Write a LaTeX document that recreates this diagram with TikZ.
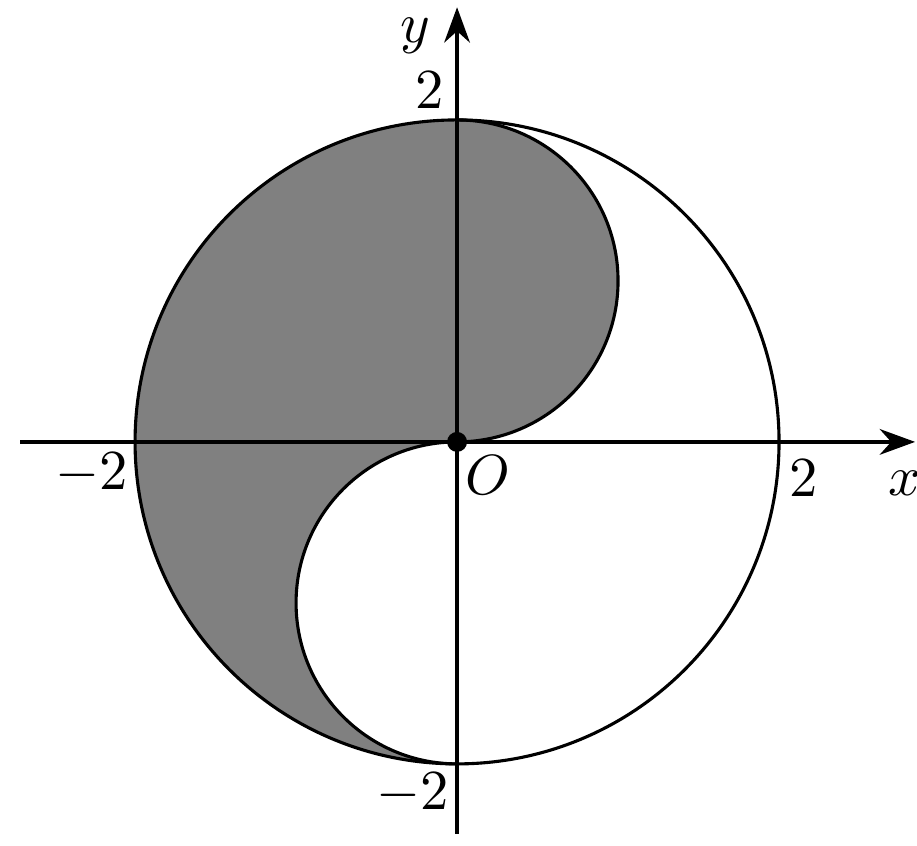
\documentclass[tikz,border=0pt]{standalone}
\usetikzlibrary{arrows.meta}
\begin{document}
\begin{tikzpicture}[
  lbl/.style={inner sep=0pt, font=\fontsize{10}{12}\selectfont},
  axis/.style={line width=0.6pt, -{Stealth[length=0.22cm, width=0.16cm]}},
  curve/.style={line width=0.55pt},
  shade/.style={fill=black!50}
]
\useasboundingbox (-2.839,-2.509) rectangle (2.857,2.745);
\coordinate (O) at (0,0);
\coordinate (T) at (0,2);
% shaded region
\fill[shade] (T) arc[start angle=90, end angle=270, radius=2]
  arc[start angle=270, end angle=90, radius=1]
  arc[start angle=-90, end angle=90, radius=1] -- cycle;
% outlines
\draw[curve] (O) circle[radius=2];
\draw[curve] (0,-2) arc[start angle=270, end angle=90, radius=1];
\draw[curve] (O) arc[start angle=-90, end angle=90, radius=1];
% axes
\coordinate (xs) at (-2.714,0);
\coordinate (xe) at (2.845,0);
\coordinate (ys) at (0,-2.435);
\coordinate (ye) at (0,2.70);
\draw[axis] (xs) -- (xe);
\draw[axis] (ys) -- (ye);
\fill (O) circle[radius=0.062];
% labels
\node[lbl] (ly) at (-0.261,2.52) {$y$};
\node[lbl] (lx) at (2.78,-0.26) {$x$};
\node[lbl] (lO) at (0.192,-0.205) {$O$};
\node[lbl] (t2) at (-0.168,2.186) {2};
\node[lbl] (r2) at (2.155,-0.224) {2};
\node[lbl] (l2) at (-2.267,-0.193) {$-$2};
\node[lbl] (b2) at (-0.273,-2.18) {$-$2};
\end{tikzpicture}
\end{document}
